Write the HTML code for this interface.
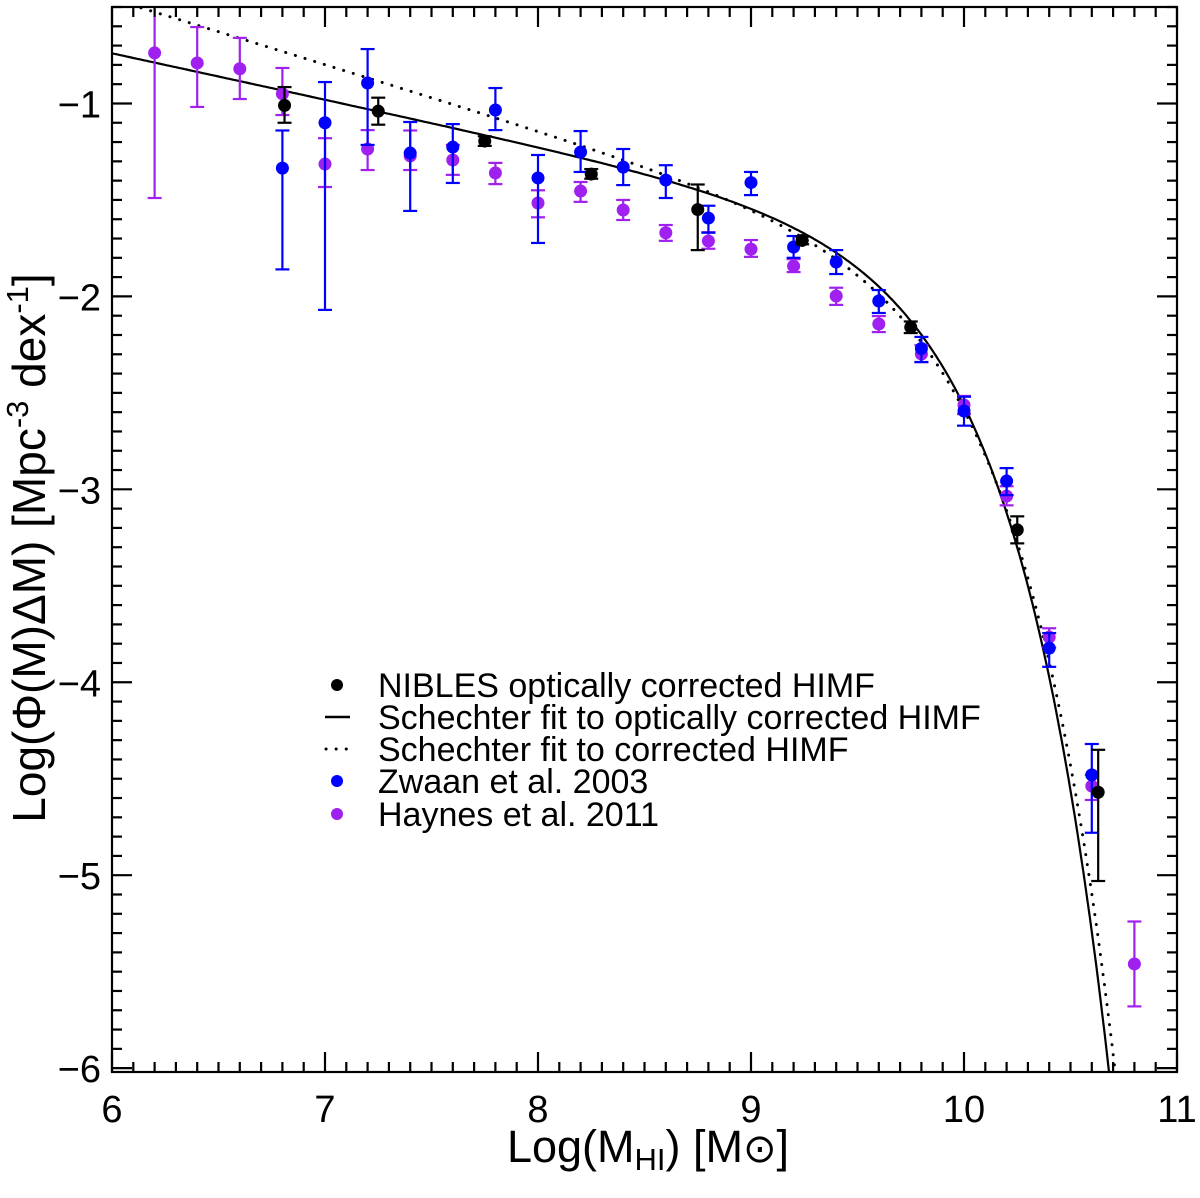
<!DOCTYPE html>
<html><head><meta charset="utf-8"><style>
html,body{margin:0;padding:0;background:#fff;width:1200px;height:1198px;overflow:hidden;}
svg{display:block;font-family:"Liberation Sans",sans-serif;}
</style></head><body>
<svg id="chart" width="1200" height="1198" xmlns="http://www.w3.org/2000/svg">
<text x="648" y="1162" font-size="45" text-anchor="middle">Log(M<tspan font-size="31" dy="8">HI</tspan><tspan dy="-8">) [M</tspan><tspan font-family="DejaVu Sans" font-size="40">⊙</tspan>]</text>
<text transform="translate(45,548) rotate(-90)" font-size="46" text-anchor="middle">Log(Φ(M)ΔM) [Mpc<tspan font-size="31" dy="-17">-3</tspan><tspan dy="17"> dex</tspan><tspan font-size="31" dy="-17">-1</tspan><tspan dy="17">]</tspan></text>
<g font-size="34">
<circle cx="337" cy="685" r="6" fill="#000"/>
<text x="378" y="697">NIBLES optically corrected HIMF</text>
<line x1="325" x2="350" y1="717" y2="717" stroke="#000" stroke-width="2.5"/>
<text x="378" y="729">Schechter fit to optically corrected HIMF</text>
<line x1="326" x2="350" y1="749" y2="749" stroke="#000" stroke-width="3" stroke-dasharray="0.1 10" stroke-linecap="round"/>
<text x="378" y="761">Schechter fit to corrected HIMF</text>
<circle cx="337" cy="781" r="6" fill="#0000ff"/>
<text x="378" y="793">Zwaan et al. 2003</text>
<circle cx="337" cy="814" r="6" fill="#a020f0"/>
<text x="378" y="826">Haynes et al. 2011</text>
</g>
</svg>
<script>
const xTicks=[6,7,8,9,10,11];
const yTicks=[-1,-2,-3,-4,-5,-6];
const yTickLabels=["\u22121","\u22122","\u22123","\u22124","\u22125","\u22126"];
// NIBLES
const nibX=[6.81,7.25,7.75,8.25,8.75,9.24,9.75,10.25,10.63];
const nibY=[-1.01,-1.04,-1.195,-1.366,-1.55,-1.71,-2.16,-3.21,-4.57];
const nibHi=[-0.915,-0.97,-1.17,-1.34,-1.42,-1.69,-2.13,-3.14,-4.35];
const nibLo=[-1.10,-1.11,-1.22,-1.39,-1.76,-1.73,-2.19,-3.28,-5.03];
// Zwaan 2003
const zwX=[6.8,7.0,7.2,7.4,7.6,7.8,8.0,8.2,8.4,8.6,8.8,9.0,9.2,9.4,9.6,9.8,10.0,10.2,10.4,10.6];
const zwY=[-1.335,-1.10,-0.894,-1.257,-1.226,-1.034,-1.386,-1.252,-1.33,-1.397,-1.594,-1.41,-1.744,-1.822,-2.024,-2.27,-2.594,-2.957,-3.823,-4.48];
const zwHi=[-1.14,-0.889,-0.718,-1.096,-1.107,-0.92,-1.267,-1.143,-1.236,-1.32,-1.53,-1.355,-1.687,-1.76,-1.967,-2.21,-2.52,-2.89,-3.745,-4.32];
const zwLo=[-1.86,-2.07,-1.215,-1.557,-1.412,-1.138,-1.723,-1.355,-1.423,-1.49,-1.67,-1.475,-1.80,-1.884,-2.086,-2.34,-2.67,-3.03,-3.92,-4.78];
// Haynes 2011
const haX=[6.2,6.4,6.6,6.8,7.0,7.2,7.4,7.6,7.8,8.0,8.2,8.4,8.6,8.8,9.0,9.2,9.4,9.6,9.8,10.0,10.2,10.4,10.6,10.8];
const haY=[-0.738,-0.79,-0.82,-0.95,-1.314,-1.236,-1.272,-1.293,-1.36,-1.516,-1.454,-1.552,-1.67,-1.713,-1.755,-1.843,-1.998,-2.143,-2.299,-2.563,-3.035,-3.766,-4.538,-5.46];
const haHi=[-0.45,-0.604,-0.66,-0.816,-1.18,-1.138,-1.14,-1.215,-1.308,-1.45,-1.407,-1.5,-1.63,-1.667,-1.708,-1.807,-1.955,-2.102,-2.253,-2.516,-2.984,-3.72,-4.48,-5.24];
const haLo=[-1.49,-1.018,-0.977,-1.06,-1.433,-1.345,-1.345,-1.37,-1.418,-1.59,-1.51,-1.604,-1.712,-1.753,-1.795,-1.874,-2.044,-2.185,-2.341,-2.61,-3.083,-3.82,-4.61,-5.68];
// Schechter fit params [A, alpha+1, logM*]
const fitSolid=[-1.628,-0.24,9.7];
const fitDot=[-1.733,-0.34,9.75];

const L=112,R=1177,T=7,B=1072,X0=6,X1=11,Y0=-6.02,Y1=-0.5;
const sx=v=>L+(v-X0)/(X1-X0)*(R-L);
const sy=v=>T+(Y1-v)/(Y1-Y0)*(B-T);
const NS="http://www.w3.org/2000/svg";
const svg=document.getElementById('chart');
function mk(tag,attrs,parent){const e=document.createElementNS(NS,tag);for(const k in attrs)e.setAttribute(k,attrs[k]);(parent||svg).appendChild(e);return e;}

const defs=mk('defs',{});
const cp=mk('clipPath',{id:'clip'},defs);
mk('rect',{x:L,y:T,width:R-L,height:B-T},cp);
const plot=mk('g',{'clip-path':'url(#clip)'});



function schechter(p,x){return p[0]+p[1]*(x-p[2])-Math.pow(10,x-p[2])/Math.LN10;}
function curve(p,dash,name){
  let d='';for(let x=X0;x<=10.9;x+=0.01){const y=schechter(p,x);d+=(d?'L':'M')+sx(x).toFixed(1)+','+sy(y).toFixed(1);}
  const e=mk('path',{d:d,fill:'none',stroke:'#000','stroke-width':dash?3:2.2,'stroke-dasharray':dash?'0.1 10':'none','stroke-linecap':'round'},plot);
  
  
}
curve(fitDot,true,'schechter-fit-corrected');
curve(fitSolid,false,'schechter-fit-optically-corrected');

function series(xs,ys,hi,lo,col,name){
  const g=mk('g',{},plot);
  
  
  for(let i=0;i<xs.length;i++){
    const x=sx(xs[i]),yh=sy(hi[i]),yl=sy(lo[i]);
    mk('line',{x1:x,x2:x,y1:yh,y2:yl,stroke:col,'stroke-width':2.2},g);
    mk('line',{x1:x-7,x2:x+7,y1:yh,y2:yh,stroke:col,'stroke-width':2.2},g);
    mk('line',{x1:x-7,x2:x+7,y1:yl,y2:yl,stroke:col,'stroke-width':2.2},g);
    const c=mk('circle',{cx:x,cy:sy(ys[i]),r:6.5,fill:col},g);
    
    
  }
}
series(haX,haY,haHi,haLo,'#a020f0','haynes-2011-series');
series(zwX,zwY,zwHi,zwLo,'#0000ff','zwaan-2003-series');
series(nibX,nibY,nibHi,nibLo,'#000','nibles-series');

const ax=mk('g',{stroke:'#000','stroke-width':2.2});


mk('rect',{x:L,y:T,width:R-L,height:B-T,fill:'none'},ax);
for(let k=0;k<=50;k++){const v=X0+k*0.1,x=sx(v),len=(k%10===0)?20:10;
  mk('line',{x1:x,x2:x,y1:B,y2:B-len},ax);mk('line',{x1:x,x2:x,y1:T,y2:T+len},ax);}
for(let k=0;k<=55;k++){const v=-0.5-k*0.1;if(v<Y0)break;const y=sy(v);const maj=Math.abs(v-Math.round(v))<1e-6;const len=maj?20:10;
  mk('line',{x1:L,x2:L+len,y1:y,y2:y},ax);mk('line',{x1:R,x2:R-len,y1:y,y2:y},ax);}
xTicks.forEach(v=>{const t=mk('text',{x:sx(v),y:1122,'font-size':38,'text-anchor':'middle'});t.textContent=String(v);
  
  });
yTicks.forEach((v,i)=>{const t=mk('text',{x:101,y:sy(v)+14,'font-size':38,'text-anchor':'end'});t.textContent=yTickLabels[i];
  
  });
</script>
</body></html>
